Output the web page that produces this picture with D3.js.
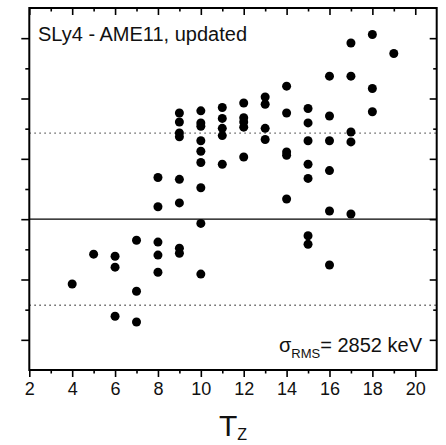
<!DOCTYPE html>
<html>
<head>
<meta charset="utf-8">
<script src="https://cdn.jsdelivr.net/npm/d3@7"></script>
<style>
  html, body { margin: 0; padding: 0; background: #fff; }
  svg { display: block; font-family: "Liberation Sans", Arial, Helvetica, sans-serif; }
</style>
</head>
<body>
<div id="chart"></div>
<script>
// Isospin projection T_z of each nucleus and its energy residual (MeV)
const tz = [
  4,
  5,
  6, 6, 6,
  7, 7, 7,
  8, 8, 8, 8, 8,
  9, 9, 9, 9, 9, 9, 9, 9,
  10, 10, 10, 10, 10, 10, 10, 10, 10,
  11, 11, 11, 11, 11,
  12, 12, 12, 12, 12,
  13, 13, 13, 13,
  14, 14, 14, 14, 14,
  15, 15, 15, 15, 15, 15, 15,
  16, 16, 16, 16, 16, 16,
  17, 17, 17, 17, 17,
  18, 18, 18,
  19
];
const residual = [
  -2.15,
  -1.16,
  -1.23, -1.59, -3.22,
  -0.70, -2.39, -3.41,
  1.38, 0.41, -0.76, -1.19, -1.76,
  3.52, 3.22, 2.86, 2.73, 1.32, 0.54, -0.96, -1.13,
  3.59, 3.19, 3.08, 2.60, 2.25, 1.88, 1.04, -0.14, -1.82,
  3.70, 3.34, 3.01, 2.77, 1.82,
  3.85, 3.36, 3.22, 3.05, 2.06,
  4.05, 3.81, 3.01, 2.64,
  4.41, 3.52, 2.23, 2.12, 0.67,
  3.67, 3.19, 2.60, 1.82, 1.35, -0.55, -0.83,
  4.74, 3.42, 2.60, 1.61, 0.27, -1.52,
  5.84, 4.74, 2.89, 2.56, 0.17,
  6.12, 4.33, 3.56,
  5.49
];

const sigmaRms = 2.852;            // MeV, shown as keV in the label
const xMajorTicks = [2, 4, 6, 8, 10, 12, 14, 16, 18, 20];
const xMinorTicks = [3, 5, 7, 9, 11, 13, 15, 17, 19];
const yMajorTicks = [-4, -2, 0, 2, 4, 6];
const yMinorTicks = [-3, -1, 1, 3, 5];
const titleText = "SLy4 - AME11, updated";

const W = 446, H = 445;
const plotLeft = 29.3, plotRight = 436.7, plotTop = 8, plotBottom = 370;

const x = d3.scaleLinear().domain([2, 21]).range([plotLeft, plotRight]);
const y = d3.scaleLinear().domain([-5, 7]).range([plotBottom, plotTop]);

const svg = d3.select("#chart").append("svg")
  .attr("width", W).attr("height", H);

// reference lines: zero and +/- sigma
svg.append("line")
  .attr("x1", x(2)).attr("x2", x(21))
  .attr("y1", y(0)).attr("y2", y(0))
  .attr("stroke", "#000").attr("stroke-width", 1.3);

svg.selectAll("line.sigma").data([sigmaRms, -sigmaRms]).join("line")
  .attr("class", "sigma")
  .attr("x1", x(2)).attr("x2", x(21))
  .attr("y1", d => y(d)).attr("y2", d => y(d))
  .attr("stroke", "#666").attr("stroke-width", 1.4)
  .attr("stroke-dasharray", "1.6,3.4");

// points
svg.append("g").selectAll("circle").data(d3.range(tz.length)).join("circle")
  .attr("cx", i => x(tz[i]))
  .attr("cy", i => y(residual[i]))
  .attr("r", 4.5)
  .attr("fill", "#000");

// axes
function styleAxis(g) {
  g.select(".domain").remove();
  g.selectAll(".tick line").attr("stroke", "#000").attr("stroke-width", 1.6);
}

svg.append("g").attr("transform", `translate(0,${plotBottom})`)
  .call(d3.axisBottom(x).tickValues(xMajorTicks).tickSize(7).tickPadding(5)
    .tickFormat(d3.format("d")))
  .call(styleAxis)
  .call(g => g.selectAll("text").attr("font-size", 18).attr("fill", "#111")
    .attr("font-family", "Liberation Sans, Arial, sans-serif"));
svg.append("g").attr("transform", `translate(0,${plotBottom})`)
  .call(d3.axisBottom(x).tickValues(xMinorTicks).tickSize(3.5).tickFormat(""))
  .call(styleAxis);

svg.append("g").attr("transform", `translate(0,${plotTop})`)
  .call(d3.axisTop(x).tickValues(xMajorTicks).tickSize(-7).tickFormat(""))
  .call(styleAxis);
svg.append("g").attr("transform", `translate(0,${plotTop})`)
  .call(d3.axisTop(x).tickValues(xMinorTicks).tickSize(-3.5).tickFormat(""))
  .call(styleAxis);

svg.append("g").attr("transform", `translate(${plotLeft},0)`)
  .call(d3.axisLeft(y).tickValues(yMajorTicks).tickSize(8).tickFormat(""))
  .call(styleAxis);
svg.append("g").attr("transform", `translate(${plotLeft},0)`)
  .call(d3.axisLeft(y).tickValues(yMinorTicks).tickSize(4).tickFormat(""))
  .call(styleAxis);

svg.append("g").attr("transform", `translate(${plotRight},0)`)
  .call(d3.axisRight(y).tickValues(yMajorTicks).tickSize(-7).tickFormat(""))
  .call(styleAxis);
svg.append("g").attr("transform", `translate(${plotRight},0)`)
  .call(d3.axisRight(y).tickValues(yMinorTicks).tickSize(-3.5).tickFormat(""))
  .call(styleAxis);

// frame
svg.append("rect")
  .attr("x", plotLeft).attr("y", plotTop)
  .attr("width", plotRight - plotLeft).attr("height", plotBottom - plotTop)
  .attr("fill", "none").attr("stroke", "#000").attr("stroke-width", 2);

// title inside the frame
svg.append("text")
  .attr("x", 38).attr("y", 41)
  .attr("font-size", 20).attr("fill", "#111")
  .text(titleText);

// RMS deviation label
const rms = svg.append("text")
  .attr("x", 422).attr("y", 352)
  .attr("text-anchor", "end")
  .attr("font-size", 20).attr("fill", "#111");
rms.append("tspan").text("σ");
rms.append("tspan").attr("font-size", 13).attr("dy", 6).text("RMS");
rms.append("tspan").attr("dy", -6).text("= " + Math.round(sigmaRms * 1000) + " keV");

// x-axis title
const xt = svg.append("text")
  .attr("x", 233).attr("y", 436)
  .attr("text-anchor", "middle")
  .attr("font-size", 30).attr("fill", "#111");
xt.append("tspan").text("T");
xt.append("tspan").attr("font-size", 16).attr("dy", 4).text("Z");
</script>
</body>
</html>
